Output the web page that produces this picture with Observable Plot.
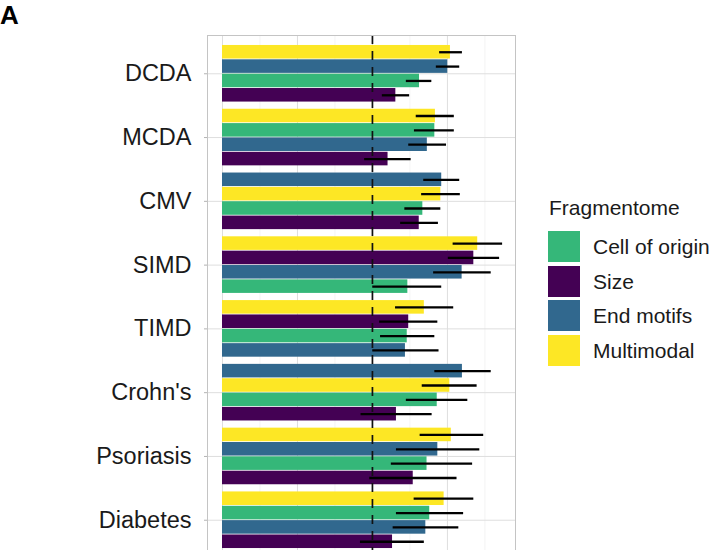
<!DOCTYPE html>
<html>
<head>
<meta charset="utf-8">
<script src="https://cdn.jsdelivr.net/npm/d3@7"></script>
<script src="https://cdn.jsdelivr.net/npm/@observablehq/plot@0.6"></script>
<style>
  html, body { margin: 0; padding: 0; overflow: hidden; background: #fff; }
  body { font-family: "Liberation Sans", Arial, Helvetica, sans-serif; }
  #wrap { position: relative; width: 715px; height: 550px; }
  #panelLabel { position: absolute; left: 0px; top: 2px; font-size: 26px; font-weight: bold; line-height: 26px; color: #000; }
  #legend { position: absolute; left: 548px; top: 0; color: #1a1a1a; }
  #legend .title { position: absolute; left: 1px; top: 197px; font-size: 21px; line-height: 21px; white-space: nowrap; }
  #legend .item { position: absolute; left: 0; display: flex; align-items: center; height: 31px; white-space: nowrap; }
  #legend .sw { width: 32px; height: 31px; margin-right: 13px; }
  #legend .lab { font-size: 21px; line-height: 21px; }
  g[aria-label="y-axis tick"] { stroke: #b3b3b3; }
  g[aria-label="y-axis"] line { stroke: #b3b3b3; }
</style>
</head>
<body>
<div id="wrap">
  <div id="panelLabel">A</div>
  <div id="chart"></div>
  <div id="legend"></div>
</div>
<script>
// Categories (top to bottom)
const categories = ["DCDA", "MCDA", "CMV", "SIMD", "TIMD", "Crohn's", "Psoriasis", "Diabetes"];
// Fragmentome feature sets (legend order) and colours
const features = ["Cell of origin", "Size", "End motifs", "Multimodal"];
const featureColors = ["#35B779", "#440154", "#31688E", "#FDE725"];

// AUC estimates and confidence intervals, per category
const cellOfOrigin   = [0.657, 0.708, 0.668, 0.618, 0.616, 0.716, 0.682, 0.691];
const cellOfOriginLo = [0.613, 0.640, 0.608, 0.501, 0.527, 0.613, 0.563, 0.580];
const cellOfOriginHi = [0.698, 0.773, 0.728, 0.731, 0.708, 0.818, 0.834, 0.804];

const sizeAuc   = [0.578, 0.552, 0.656, 0.838, 0.621, 0.580, 0.636, 0.567];
const sizeLo    = [0.533, 0.474, 0.594, 0.753, 0.524, 0.462, 0.491, 0.460];
const sizeHi    = [0.624, 0.629, 0.720, 0.924, 0.718, 0.699, 0.782, 0.673];

const endMotifs   = [0.751, 0.683, 0.731, 0.799, 0.610, 0.800, 0.718, 0.678];
const endMotifsLo = [0.713, 0.621, 0.671, 0.704, 0.501, 0.708, 0.580, 0.569];
const endMotifsHi = [0.791, 0.747, 0.791, 0.896, 0.722, 0.896, 0.858, 0.788];

const multimodal   = [0.760, 0.710, 0.728, 0.851, 0.673, 0.758, 0.763, 0.739];
const multimodalLo = [0.724, 0.646, 0.664, 0.769, 0.577, 0.666, 0.659, 0.639];
const multimodalHi = [0.800, 0.773, 0.793, 0.934, 0.771, 0.849, 0.871, 0.838];

// Reference line and gridlines
const chanceLevel = [0.5];
const majorBreaks = [0, 0.25, 0.5, 0.75];
const minorBreaks = [0.125, 0.375, 0.625, 0.875];

// Build table
const series = [
  [cellOfOrigin, cellOfOriginLo, cellOfOriginHi],
  [sizeAuc, sizeLo, sizeHi],
  [endMotifs, endMotifsLo, endMotifsHi],
  [multimodal, multimodalLo, multimodalHi]
];
const rows = [];
categories.forEach((cat, i) => {
  const group = features.map((f, k) => ({
    cat, idx: i + 1, feature: f,
    value: series[k][0][i], lo: series[k][1][i], hi: series[k][2][i]
  }));
  group.sort((a, b) => b.value - a.value);
  const dodge = 0.9, n = group.length, w = dodge / n;
  group.forEach((r, rank) => {
    r.y1 = r.idx - dodge / 2 + rank * w;
    r.y2 = r.y1 + w;
    r.yc = r.y1 + w / 2;
    rows.push(r);
  });
});

const plot = Plot.plot({
  width: 715,
  height: 560,
  marginLeft: 207,
  marginRight: 200,
  marginTop: 35,
  marginBottom: 2,
  style: { fontFamily: "'Liberation Sans', Arial, Helvetica, sans-serif", fontSize: "23.5px", color: "#1a1a1a", background: "transparent" },
  x: { domain: [-0.05, 0.977], axis: null },
  y: {
    domain: [0.4, 8.6], reverse: true,
    ticks: d3.range(1, categories.length + 1),
    tickFormat: i => categories[i - 1],
    tickSize: 3, tickPadding: 13, label: null
  },
  color: { domain: features, range: featureColors },
  marks: [
    Plot.ruleX(minorBreaks, { stroke: "#ececec", strokeWidth: 0.6 }),
    Plot.ruleX(majorBreaks, { stroke: "#dedede", strokeWidth: 1 }),
    Plot.ruleY(d3.range(1, categories.length + 1), { stroke: "#dedede", strokeWidth: 1 }),
    Plot.rect(rows, { x1: () => 0, x2: "value", y1: "y1", y2: "y2", fill: "feature", insetTop: 0.4, insetBottom: 0.4 }),
    Plot.ruleX(chanceLevel, { stroke: "#111", strokeWidth: 1.7, strokeDasharray: "9,7" }),
    Plot.ruleY(rows, { y: "yc", x1: "lo", x2: "hi", stroke: "#000", strokeWidth: 2.3 }),
    Plot.frame({ stroke: "#c4c4c4", strokeWidth: 1 })
  ]
});
document.getElementById("chart").appendChild(plot);

// Legend
const legend = document.getElementById("legend");
const title = document.createElement("div");
title.className = "title";
title.textContent = "Fragmentome";
legend.appendChild(title);
features.forEach((f, k) => {
  const item = document.createElement("div");
  item.className = "item";
  item.style.top = (231 + k * 34.5) + "px";
  const sw = document.createElement("div");
  sw.className = "sw";
  sw.style.background = featureColors[k];
  const lab = document.createElement("div");
  lab.className = "lab";
  lab.textContent = f;
  item.appendChild(sw);
  item.appendChild(lab);
  legend.appendChild(item);
});
</script>
</body>
</html>
